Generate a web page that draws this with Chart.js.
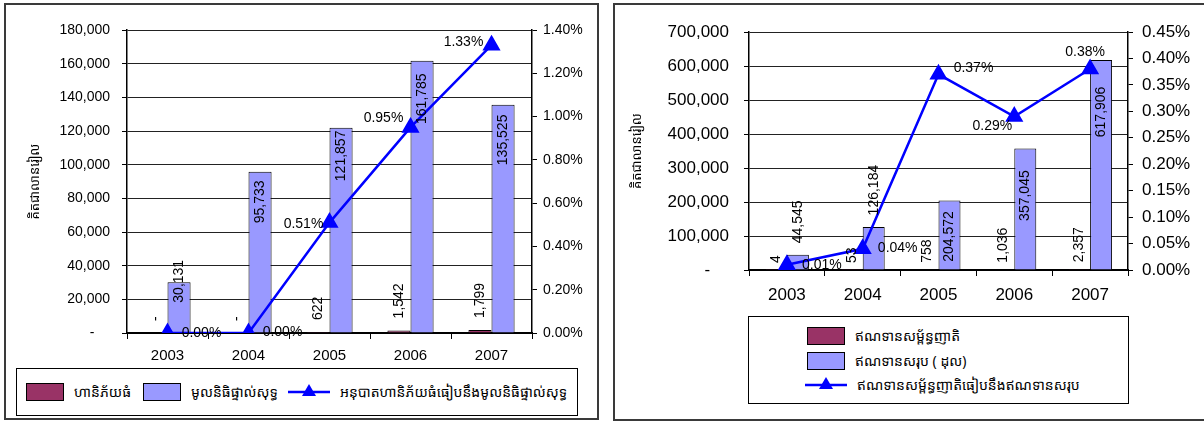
<!DOCTYPE html>
<html>
<head>
<meta charset="utf-8">
<script src="https://cdn.jsdelivr.net/npm/chart.js@4/dist/chart.umd.min.js"></script>
<style>
  html, body { margin: 0; padding: 0; background: #fff; }
  body { width: 1204px; height: 421px; position: relative; overflow: hidden;
         font-family: 'Liberation Sans', Arial, 'Noto Sans', sans-serif; }
  .panel { position: absolute; box-sizing: border-box; border: 2px solid #3a3a3a; }
  canvas { position: absolute; top: 0; }
  .legend { position: absolute; box-sizing: border-box; border: 1px solid #000; background: #fff; }
  .item { position: absolute; display: flex; align-items: center; white-space: nowrap;
          font-size: 14px; color: #000; line-height: 1; }
  .sw { display: inline-block; box-sizing: border-box; border: 1px solid #000; }
  .txt { display: inline-block; }
</style>
</head>
<body>
<div class="panel" style="left:4px; top:3px; width:595px; height:417px;"></div>
<div class="panel" style="left:613px; top:3px; width:595px; height:418px;"></div>
<canvas id="riskChart" width="600" height="421" style="left:0px;"></canvas>
<canvas id="loanChart" width="598" height="421" style="left:606px;"></canvas>
<div class="legend" id="riskLegend" style="left:16px; top:368px; width:562px; height:48px;"></div>
<div class="legend" id="loanLegend" style="left:748px; top:316px; width:381px; height:88px;"></div>

<script>
// ---- data ----
const years = ['2003', '2004', '2005', '2006', '2007'];
const yAxisTitle = 'គិតជាលានរៀល';

// large exposures vs. net worth (millions of riel)
const riskNames = ['ហានិភ័យធំ', 'មូលនិធិផ្ទាល់សុទ្ធ', 'អនុបាតហានិភ័យធំធៀបនឹងមូលនិធិផ្ទាល់សុទ្ធ'];
const largeExposure = [0, 0, 622, 1542, 1799];
const netWorth = [30131, 95733, 121857, 161785, 135525];
const exposureRatioPct = [0.00, 0.00, 0.51, 0.95, 1.33];

// related-party loans vs. gross loans (millions of riel)
const loanNames = ['ឥណទានសម្ព័ន្ធញាតិ', 'ឥណទានសរុប ( ដុល)', 'ឥណទានសម្ព័ន្ធញាតិធៀបនឹងឥណទានសរុប'];
const relatedLoans = [4, 53, 758, 1036, 2357];
const grossLoans = [44545, 126184, 204572, 357045, 617906];
const relatedRatioPct = [0.01, 0.04, 0.37, 0.29, 0.38];

// ---- styling ----
const FONT = "'Liberation Sans', Arial, sans-serif";
const KHMER = "'Noto Sans Khmer', 'Khmer OS', 'Khmer OS System', 'Liberation Sans', sans-serif";
const MAROON = '#993366';
const LAVENDER = '#9999FF';
const BLUE = '#0000FF';

const fmtAmount = v => v === 0 ? '-' : Math.round(v).toLocaleString('en-US');
const fmtPct = v => v.toFixed(2) + '%';

// Data labels drawn next to the library's own bar / point elements.
function makeLabelPlugin(specs) {
  return {
    id: 'valueLabels',
    afterDatasetsDraw(chart) {
      const ctx = chart.ctx;
      specs.forEach(spec => {
        const meta = chart.getDatasetMeta(spec.dataset);
        const values = chart.data.datasets[spec.dataset].data;
        meta.data.forEach((el, i) => {
          const text = spec.format(values[i]);
          ctx.save();
          ctx.font = spec.font;
          ctx.fillStyle = '#000';
          ctx.textAlign = 'center';
          ctx.textBaseline = 'middle';
          if (spec.rotate) {
            const w = ctx.measureText(text).width;
            const cy = spec.shift ? el.y + spec.shift[i] : el.y - spec.gap - w / 2;
            ctx.translate(el.x, cy);
            ctx.rotate(-Math.PI / 2);
            ctx.fillText(text, 0, 0);
          } else {
            const [dx, dy] = spec.offsets[i];
            ctx.fillText(text, el.x + dx, el.y + dy);
          }
          ctx.restore();
        });
      });
    }
  };
}

function buildChart(canvasId, o) {
  const labelPlugin = makeLabelPlugin([
    { dataset: 1, rotate: true, gap: o.smallGap, format: fmtAmount, font: '14px ' + FONT },
    { dataset: 2, rotate: true, shift: o.bigShift, format: fmtAmount, font: '14px ' + FONT },
    { dataset: 0, rotate: false, offsets: o.ratioOffsets, format: fmtPct, font: '14px ' + FONT }
  ]);
  return new Chart(document.getElementById(canvasId), {
    type: 'bar',
    data: {
      labels: years,
      datasets: [
        { type: 'line', label: o.names[2], data: o.ratio, yAxisID: 'y1', order: 0,
          borderColor: BLUE, backgroundColor: BLUE, borderWidth: 2.5,
          pointStyle: 'triangle', pointRadius: 8, pointHoverRadius: 8,
          pointBackgroundColor: BLUE, pointBorderColor: BLUE, tension: 0 },
        { label: o.names[0], data: o.small, yAxisID: 'y', order: 1,
          backgroundColor: MAROON, borderColor: '#000', borderWidth: 1,
          categoryPercentage: o.catPct, barPercentage: 1 },
        { label: o.names[1], data: o.big, yAxisID: 'y', order: 1,
          backgroundColor: LAVENDER, borderColor: '#000', borderWidth: 1,
          categoryPercentage: o.catPct, barPercentage: 1 }
      ]
    },
    options: {
      responsive: false,
      animation: false,
      devicePixelRatio: 1,
      layout: { padding: { top: o.top, left: 0, right: 0, bottom: 0 } },
      plugins: {
        legend: { display: false },
        tooltip: { enabled: false }
      },
      scales: {
        x: {
          offset: true,
          grid: { display: true, drawOnChartArea: false, drawTicks: true, tickLength: 6,
                  color: '#000', offset: true },
          border: { color: '#000', width: 2 },
          ticks: { color: '#000', font: { family: FONT, size: o.xFont }, padding: o.xPad },
          afterFit: s => { s.height = o.xHeight; }
        },
        y: {
          position: 'left', min: 0, max: o.yMax,
          ticks: { stepSize: o.yStep, color: '#000', font: { family: FONT, size: o.tickFont },
                   padding: o.yPad,
                   callback: v => v === 0 ? '-    ' : v.toLocaleString('en-US') },
          grid: { color: '#222', lineWidth: 1, tickLength: 5, tickColor: '#000' },
          border: { color: '#000', width: 1.5 },
          title: { display: true, text: yAxisTitle, color: '#000',
                   font: { family: KHMER, size: 13 }, padding: { top: o.titlePad, bottom: 0 } },
          afterFit: s => { s.width = o.yWidth; }
        },
        y1: {
          position: 'right', min: 0, max: o.y1Max,
          ticks: { stepSize: o.y1Step, color: '#000', font: { family: FONT, size: o.tickFont },
                   padding: o.y1Pad, callback: v => fmtPct(v) },
          grid: { drawOnChartArea: false, tickLength: 5, color: '#000' },
          border: { color: '#000', width: 1.5 },
          afterFit: s => { s.width = o.y1Width; }
        }
      }
    },
    plugins: [labelPlugin]
  });
}

buildChart('riskChart', {
  names: riskNames, small: largeExposure, big: netWorth, ratio: exposureRatioPct,
  catPct: 0.57, top: 30, xHeight: 88, yWidth: 127, y1Width: 68,
  yMax: 180000, yStep: 20000, y1Max: 1.4, y1Step: 0.2,
  tickFont: 14, xFont: 15, xPad: 8, yPad: 12, y1Pad: 6, titlePad: 27,
  smallGap: 12,
  bigShift: [-1, 30, 28, 38, 35],
  ratioOffsets: [[34, 0], [34, -1], [-26, 2], [-27, -9], [-28, -3]]
});

buildChart('loanChart', {
  names: loanNames, small: relatedLoans, big: grossLoans, ratio: relatedRatioPct,
  catPct: 0.58, top: 32, xHeight: 151, yWidth: 143, y1Width: 76,
  yMax: 700000, yStep: 100000, y1Max: 0.45, y1Step: 0.05,
  tickFont: 17, xFont: 17, xPad: 9, yPad: 15, y1Pad: 9, titlePad: 23,
  smallGap: 7,
  bigShift: [-33, -37, 36, 47, 52],
  ratioOffsets: [[35, 0], [35, -1], [35, -6], [-22, 10], [-5, -17]]
});

// ---- legends ----
function swatchItem(color, name, x, y) {
  const d = document.createElement('div');
  d.className = 'item';
  d.style.left = x + 'px';
  d.style.top = y + 'px';
  d.innerHTML = '<span class="sw" style="width:38px;height:18px;background:' + color +
    '"></span><span class="txt" style="margin-left:10px;font-family:' + KHMER.replace(/'/g, '&quot;') + '">' + name + '</span>';
  return d;
}
function lineItem(name, x, y) {
  const d = document.createElement('div');
  d.className = 'item';
  d.style.left = x + 'px';
  d.style.top = y + 'px';
  d.innerHTML = '<svg width="42" height="18" viewBox="0 0 42 18">' +
    '<line x1="0" y1="9" x2="42" y2="9" stroke="' + BLUE + '" stroke-width="2.5"/>' +
    '<polygon points="21,1 28,13 14,13" fill="' + BLUE + '"/></svg>' +
    '<span class="txt" style="margin-left:10px;font-family:' + KHMER.replace(/'/g, '&quot;') + '">' + name + '</span>';
  return d;
}

const riskLegend = document.getElementById('riskLegend');
riskLegend.appendChild(swatchItem(MAROON, riskNames[0], 9, 14));
riskLegend.appendChild(swatchItem(LAVENDER, riskNames[1], 126, 14));
riskLegend.appendChild(lineItem(riskNames[2], 271, 14));

const loanLegend = document.getElementById('loanLegend');
loanLegend.appendChild(swatchItem(MAROON, loanNames[0], 58, 10));
loanLegend.appendChild(swatchItem(LAVENDER, loanNames[1], 58, 35));
loanLegend.appendChild(lineItem(loanNames[2], 56, 59));
</script>
</body>
</html>
